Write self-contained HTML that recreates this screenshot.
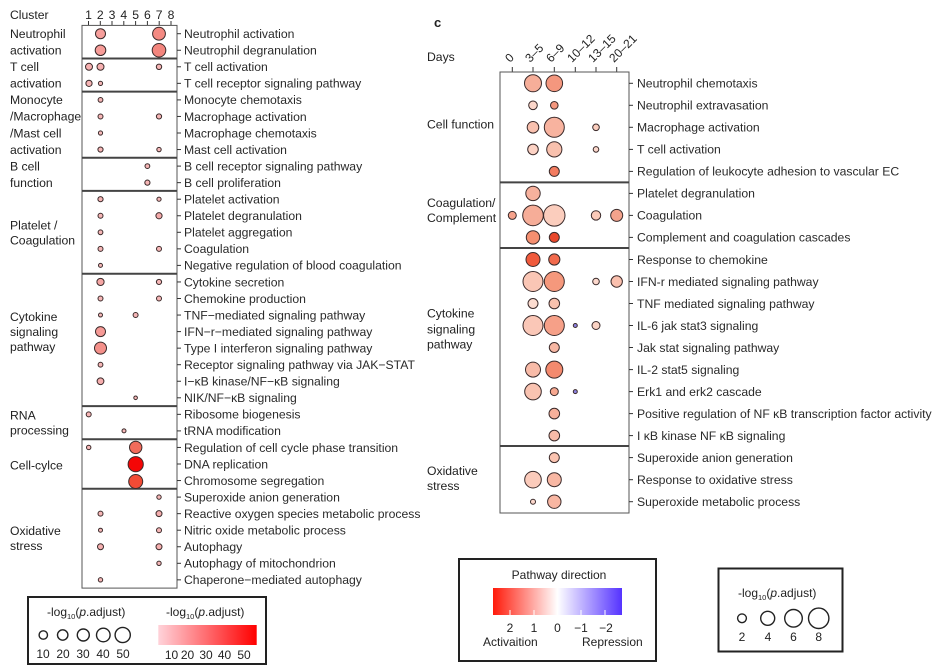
<!DOCTYPE html>
<html><head><meta charset="utf-8"><style>
html,body{margin:0;padding:0;background:#fff;}
svg{display:block;font-family:"Liberation Sans","DejaVu Sans",sans-serif;}
.t{font-size:12.2px;fill:#2a2a2a;}
.g{font-size:12.2px;fill:#222;}
.s{font-size:12px;fill:#222;}
</style></head><body>
<svg width="935" height="667" viewBox="0 0 935 667" xmlns="http://www.w3.org/2000/svg">
<defs>
<linearGradient id="pg" x1="0" x2="1" y1="0" y2="0"><stop offset="0" stop-color="#ffd3da"/><stop offset="1" stop-color="#ff0000"/></linearGradient>
<linearGradient id="dg" x1="0" x2="1" y1="0" y2="0"><stop offset="0" stop-color="#ff1a0a"/><stop offset="0.5" stop-color="#ffffff"/><stop offset="1" stop-color="#5533ff"/></linearGradient>
</defs>

<!-- LEFT PANEL -->
<text x="10" y="19" class="g">Cluster</text>
<g class="g" text-anchor="middle">
<text x="88.5" y="19">1</text><text x="100.3" y="19">2</text><text x="112" y="19">3</text><text x="123.8" y="19">4</text><text x="135.6" y="19">5</text><text x="147.4" y="19">6</text><text x="159.2" y="19">7</text><text x="171" y="19">8</text>
</g>
<g stroke="#333" stroke-width="1">
<line x1="88.5" y1="21" x2="88.5" y2="25.4"/><line x1="100.3" y1="21" x2="100.3" y2="25.4"/><line x1="112" y1="21" x2="112" y2="25.4"/><line x1="123.8" y1="21" x2="123.8" y2="25.4"/><line x1="135.6" y1="21" x2="135.6" y2="25.4"/><line x1="147.4" y1="21" x2="147.4" y2="25.4"/><line x1="159.2" y1="21" x2="159.2" y2="25.4"/><line x1="171" y1="21" x2="171" y2="25.4"/>
</g>
<rect x="82" y="25.4" width="95" height="562.7" fill="none" stroke="#555" stroke-width="1"/>
<g stroke="#444" stroke-width="2">
<line x1="82" y1="58.5" x2="177" y2="58.5"/><line x1="82" y1="91.6" x2="177" y2="91.6"/><line x1="82" y1="157.8" x2="177" y2="157.8"/><line x1="82" y1="190.9" x2="177" y2="190.9"/><line x1="82" y1="273.7" x2="177" y2="273.7"/><line x1="82" y1="406.1" x2="177" y2="406.1"/><line x1="82" y1="439.2" x2="177" y2="439.2"/><line x1="82" y1="488.8" x2="177" y2="488.8"/>
</g>
<g stroke="#333" stroke-width="1">
<line x1="177" x2="181" y1="33.7" y2="33.7"/><line x1="177" x2="181" y1="50.25" y2="50.25"/><line x1="177" x2="181" y1="66.8" y2="66.8"/><line x1="177" x2="181" y1="83.35" y2="83.35"/><line x1="177" x2="181" y1="99.9" y2="99.9"/><line x1="177" x2="181" y1="116.45" y2="116.45"/><line x1="177" x2="181" y1="133" y2="133"/><line x1="177" x2="181" y1="149.55" y2="149.55"/><line x1="177" x2="181" y1="166.1" y2="166.1"/><line x1="177" x2="181" y1="182.65" y2="182.65"/><line x1="177" x2="181" y1="199.2" y2="199.2"/><line x1="177" x2="181" y1="215.75" y2="215.75"/><line x1="177" x2="181" y1="232.3" y2="232.3"/><line x1="177" x2="181" y1="248.85" y2="248.85"/><line x1="177" x2="181" y1="265.4" y2="265.4"/><line x1="177" x2="181" y1="281.95" y2="281.95"/><line x1="177" x2="181" y1="298.5" y2="298.5"/><line x1="177" x2="181" y1="315.05" y2="315.05"/><line x1="177" x2="181" y1="331.6" y2="331.6"/><line x1="177" x2="181" y1="348.15" y2="348.15"/><line x1="177" x2="181" y1="364.7" y2="364.7"/><line x1="177" x2="181" y1="381.25" y2="381.25"/><line x1="177" x2="181" y1="397.8" y2="397.8"/><line x1="177" x2="181" y1="414.35" y2="414.35"/><line x1="177" x2="181" y1="430.9" y2="430.9"/><line x1="177" x2="181" y1="447.45" y2="447.45"/><line x1="177" x2="181" y1="464" y2="464"/><line x1="177" x2="181" y1="480.55" y2="480.55"/><line x1="177" x2="181" y1="497.1" y2="497.1"/><line x1="177" x2="181" y1="513.65" y2="513.65"/><line x1="177" x2="181" y1="530.2" y2="530.2"/><line x1="177" x2="181" y1="546.75" y2="546.75"/><line x1="177" x2="181" y1="563.3" y2="563.3"/><line x1="177" x2="181" y1="579.85" y2="579.85"/>
</g>
<g class="t">
<text x="184" y="38">Neutrophil activation</text>
<text x="184" y="54.55">Neutrophil degranulation</text>
<text x="184" y="71.1">T cell activation</text>
<text x="184" y="87.65">T cell receptor signaling pathway</text>
<text x="184" y="104.2">Monocyte chemotaxis</text>
<text x="184" y="120.75">Macrophage activation</text>
<text x="184" y="137.3">Macrophage chemotaxis</text>
<text x="184" y="153.85">Mast cell activation</text>
<text x="184" y="170.4">B cell receptor signaling pathway</text>
<text x="184" y="186.95">B cell proliferation</text>
<text x="184" y="203.5">Platelet activation</text>
<text x="184" y="220.05">Platelet degranulation</text>
<text x="184" y="236.6">Platelet aggregation</text>
<text x="184" y="253.15">Coagulation</text>
<text x="184" y="269.7">Negative regulation of blood coagulation</text>
<text x="184" y="286.25">Cytokine secretion</text>
<text x="184" y="302.8">Chemokine production</text>
<text x="184" y="319.35">TNF−mediated signaling pathway</text>
<text x="184" y="335.9">IFN−r−mediated signaling pathway</text>
<text x="184" y="352.45">Type I interferon signaling pathway</text>
<text x="184" y="369">Receptor signaling pathway via JAK−STAT</text>
<text x="184" y="385.55">I−κB kinase/NF−κB signaling</text>
<text x="184" y="402.1">NIK/NF−κB signaling</text>
<text x="184" y="418.65">Ribosome biogenesis</text>
<text x="184" y="435.2">tRNA modification</text>
<text x="184" y="451.75">Regulation of cell cycle phase transition</text>
<text x="184" y="468.3">DNA replication</text>
<text x="184" y="484.85">Chromosome segregation</text>
<text x="184" y="501.4">Superoxide anion generation</text>
<text x="184" y="517.95">Reactive oxygen species metabolic process</text>
<text x="184" y="534.5">Nitric oxide metabolic process</text>
<text x="184" y="551.05">Autophagy</text>
<text x="184" y="567.6">Autophagy of mitochondrion</text>
<text x="184" y="584.15">Chaperone−mediated autophagy</text>
</g>
<g class="g">
<text x="10" y="38">Neutrophil</text><text x="10" y="54.5">activation</text>
<text x="10" y="71.1">T cell</text><text x="10" y="87.6">activation</text>
<text x="10" y="104.2">Monocyte</text><text x="10" y="120.7">/Macrophage</text><text x="10" y="137.3">/Mast cell</text><text x="10" y="153.8">activation</text>
<text x="10" y="170.4">B cell</text><text x="10" y="186.9">function</text>
<text x="10" y="229.3">Platelet /</text><text x="10" y="244.3">Coagulation</text>
<text x="10" y="321">Cytokine</text><text x="10" y="336">signaling</text><text x="10" y="351">pathway</text>
<text x="10" y="419.3">RNA</text><text x="10" y="434.3">processing</text>
<text x="10" y="469.3">Cell-cylce</text>
<text x="10" y="535">Oxidative</text><text x="10" y="550">stress</text>
</g>
<g stroke="#3a2a2a" stroke-width="1">
<circle cx="100.5" cy="33.7" r="5" fill="#f79f9c"/><circle cx="159" cy="33.7" r="6.4" fill="#f48a82"/>
<circle cx="100.5" cy="50.25" r="5.3" fill="#f79c98"/><circle cx="159" cy="50.25" r="6.8" fill="#f3857d"/>
<circle cx="89" cy="66.8" r="3.5" fill="#f6b0b0"/><circle cx="100.5" cy="66.8" r="3.5" fill="#f6b0b0"/><circle cx="159" cy="66.8" r="2.7" fill="#f6b6b6"/>
<circle cx="89" cy="83.35" r="3.1" fill="#f6b4b4"/><circle cx="100.5" cy="83.35" r="2.1" fill="#f6b8b8"/>
<circle cx="100.5" cy="99.9" r="2.4" fill="#f6b6b6"/>
<circle cx="100.5" cy="116.45" r="2.5" fill="#f6b6b6"/><circle cx="159" cy="116.45" r="2.6" fill="#f6b6b6"/>
<circle cx="100.5" cy="133" r="2.1" fill="#f6b8b8"/>
<circle cx="100.5" cy="149.55" r="2.6" fill="#f6b6b6"/><circle cx="159" cy="149.55" r="2.2" fill="#f6b8b8"/>
<circle cx="147.4" cy="166.1" r="2.4" fill="#f6b6b6"/>
<circle cx="147.4" cy="182.65" r="2.6" fill="#f6b6b6"/>
<circle cx="100.5" cy="199.2" r="2.6" fill="#f6b4b4"/><circle cx="159" cy="199.2" r="2.1" fill="#f6b8b8"/>
<circle cx="100.5" cy="215.75" r="2.5" fill="#f6b6b6"/><circle cx="159" cy="215.75" r="3.1" fill="#f5aaaa"/>
<circle cx="100.5" cy="232.3" r="2.4" fill="#f6b6b6"/>
<circle cx="100.5" cy="248.85" r="2.5" fill="#f6b6b6"/><circle cx="159" cy="248.85" r="2.5" fill="#f6b6b6"/>
<circle cx="100.5" cy="265.4" r="2" fill="#f6b8b8"/>
<circle cx="100.5" cy="281.95" r="3.6" fill="#f5a6a4"/><circle cx="159" cy="281.95" r="2.6" fill="#f6b6b6"/>
<circle cx="100.5" cy="298.5" r="2.5" fill="#f6b6b6"/><circle cx="159" cy="298.5" r="2.5" fill="#f6b6b6"/>
<circle cx="100.5" cy="315.05" r="2" fill="#f6b8b8"/><circle cx="135.6" cy="315.05" r="2.5" fill="#f6b6b6"/>
<circle cx="100.5" cy="331.6" r="5" fill="#f69a96"/>
<circle cx="100.5" cy="348.15" r="6" fill="#f4908a"/>
<circle cx="100.5" cy="364.7" r="2.4" fill="#f6b6b6"/>
<circle cx="100.5" cy="381.25" r="3.4" fill="#f6aeae"/>
<circle cx="135.6" cy="397.8" r="1.8" fill="#f6b8b8"/>
<circle cx="88.7" cy="414.35" r="2.5" fill="#f6b6b6"/>
<circle cx="124" cy="430.9" r="2" fill="#f6b8b8"/>
<circle cx="88.7" cy="447.45" r="2.2" fill="#f6b8b8"/><circle cx="135.7" cy="447.4" r="6.2" fill="#f26b5b"/>
<circle cx="135.7" cy="464.2" r="7.6" fill="#f40606"/>
<circle cx="135.7" cy="481.5" r="7" fill="#f24b35"/>
<circle cx="159" cy="497.1" r="2.2" fill="#f6b8b8"/>
<circle cx="100.5" cy="513.65" r="2.5" fill="#f6b6b6"/><circle cx="159" cy="513.65" r="3" fill="#f5aeae"/>
<circle cx="100.5" cy="530.2" r="2" fill="#f6b8b8"/><circle cx="159" cy="530.2" r="2.5" fill="#f6b6b6"/>
<circle cx="100.5" cy="546.75" r="3" fill="#f6b0b0"/><circle cx="159" cy="546.75" r="3" fill="#f6b0b0"/>
<circle cx="159" cy="563.3" r="2.2" fill="#f6b8b8"/>
<circle cx="100.5" cy="579.85" r="2.2" fill="#f6b8b8"/>
</g>

<!-- LEFT LEGEND -->
<rect x="28" y="597" width="238" height="67" fill="none" stroke="#222" stroke-width="2"/>
<text x="47" y="616" class="s">-log<tspan font-size="7.5" dy="3">10</tspan><tspan dy="-3">(</tspan><tspan font-style="italic">p</tspan>.adjust)</text>
<text x="166" y="616" class="s">-log<tspan font-size="7.5" dy="3">10</tspan><tspan dy="-3">(</tspan><tspan font-style="italic">p</tspan>.adjust)</text>
<g fill="#fff" stroke="#222" stroke-width="1.4">
<circle cx="43.3" cy="635" r="4.2"/><circle cx="62.7" cy="635" r="5.2"/><circle cx="83.3" cy="635" r="6"/><circle cx="103.3" cy="635" r="6.8"/><circle cx="122.7" cy="635" r="7.6"/>
</g>
<g class="s" text-anchor="middle">
<text x="43" y="658">10</text><text x="63" y="658">20</text><text x="83" y="658">30</text><text x="103" y="658">40</text><text x="123" y="658">50</text>
</g>
<rect x="158.3" y="625" width="98.4" height="20" fill="url(#pg)"/>
<g class="s" text-anchor="middle">
<text x="171.5" y="659">10</text><text x="187.5" y="659">20</text><text x="206" y="659">30</text><text x="224.5" y="659">40</text><text x="244" y="659">50</text>
</g>

<!-- RIGHT PANEL -->
<text x="434" y="27" style="font-size:13px;font-weight:bold;fill:#222">c</text>
<text x="427" y="61" class="g">Days</text>
<g class="s">
<text transform="translate(510,63) rotate(-45)">0</text>
<text transform="translate(530,63) rotate(-45)">3–5</text>
<text transform="translate(551,63) rotate(-45)">6–9</text>
<text transform="translate(572,63) rotate(-45)">10–12</text>
<text transform="translate(593,63) rotate(-45)">13–15</text>
<text transform="translate(614,63) rotate(-45)">20–21</text>
</g>
<g stroke="#333" stroke-width="1">
<line x1="512.3" y1="67" x2="512.3" y2="72"/><line x1="533" y1="67" x2="533" y2="72"/><line x1="554.3" y1="67" x2="554.3" y2="72"/><line x1="575.3" y1="67" x2="575.3" y2="72"/><line x1="596" y1="67" x2="596" y2="72"/><line x1="616.7" y1="67" x2="616.7" y2="72"/>
</g>
<rect x="500" y="72" width="129" height="441" fill="none" stroke="#555" stroke-width="1"/>
<g stroke="#444" stroke-width="2">
<line x1="500" y1="182.4" x2="629" y2="182.4"/><line x1="500" y1="248" x2="629" y2="248"/><line x1="500" y1="446" x2="629" y2="446"/>
</g>
<g stroke="#333" stroke-width="1">
<line x1="629" x2="633" y1="83.3" y2="83.3"/><line x1="629" x2="633" y1="105.3" y2="105.3"/><line x1="629" x2="633" y1="127.3" y2="127.3"/><line x1="629" x2="633" y1="149.4" y2="149.4"/><line x1="629" x2="633" y1="171.4" y2="171.4"/><line x1="629" x2="633" y1="193.4" y2="193.4"/><line x1="629" x2="633" y1="215.4" y2="215.4"/><line x1="629" x2="633" y1="237.4" y2="237.4"/><line x1="629" x2="633" y1="259.5" y2="259.5"/><line x1="629" x2="633" y1="281.5" y2="281.5"/><line x1="629" x2="633" y1="303.5" y2="303.5"/><line x1="629" x2="633" y1="325.5" y2="325.5"/><line x1="629" x2="633" y1="347.5" y2="347.5"/><line x1="629" x2="633" y1="369.6" y2="369.6"/><line x1="629" x2="633" y1="391.6" y2="391.6"/><line x1="629" x2="633" y1="413.6" y2="413.6"/><line x1="629" x2="633" y1="435.6" y2="435.6"/><line x1="629" x2="633" y1="457.6" y2="457.6"/><line x1="629" x2="633" y1="479.7" y2="479.7"/><line x1="629" x2="633" y1="501.7" y2="501.7"/>
</g>
<g class="t">
<text x="637" y="87.6">Neutrophil chemotaxis</text>
<text x="637" y="109.6">Neutrophil extravasation</text>
<text x="637" y="131.6">Macrophage activation</text>
<text x="637" y="153.7">T cell activation</text>
<text x="637" y="175.7">Regulation of leukocyte adhesion to vascular EC</text>
<text x="637" y="197.7">Platelet degranulation</text>
<text x="637" y="219.7">Coagulation</text>
<text x="637" y="241.7">Complement and coagulation cascades</text>
<text x="637" y="263.8">Response to chemokine</text>
<text x="637" y="285.8">IFN-r mediated signaling pathway</text>
<text x="637" y="307.8">TNF mediated signaling pathway</text>
<text x="637" y="329.8">IL-6 jak stat3 signaling</text>
<text x="637" y="351.8">Jak stat signaling pathway</text>
<text x="637" y="373.9">IL-2 stat5 signaling</text>
<text x="637" y="395.9">Erk1 and erk2 cascade</text>
<text x="637" y="417.9">Positive regulation of NF κB transcription factor activity</text>
<text x="637" y="439.9">I κB kinase NF κB signaling</text>
<text x="637" y="461.9">Superoxide anion generation</text>
<text x="637" y="484">Response to oxidative stress</text>
<text x="637" y="506">Superoxide metabolic process</text>
</g>
<g class="g">
<text x="427" y="128.3">Cell function</text>
<text x="427" y="207">Coagulation/</text><text x="427" y="222">Complement</text>
<text x="427" y="317.6">Cytokine</text><text x="427" y="333.3">signaling</text><text x="427" y="348.3">pathway</text>
<text x="427" y="475">Oxidative</text><text x="427" y="490">stress</text>
</g>
<g stroke="#3a2a2a" stroke-width="1">
<circle cx="533" cy="83.3" r="8.5" fill="#f6ae99"/><circle cx="554.3" cy="83.3" r="8.3" fill="#f4977e"/>
<circle cx="533" cy="105.3" r="4.3" fill="#fcd6ca"/><circle cx="554.3" cy="105.3" r="3.8" fill="#f4977e"/>
<circle cx="533" cy="127.3" r="5.8" fill="#f9c1af"/><circle cx="554.3" cy="127.3" r="10" fill="#f8b39f"/><circle cx="596" cy="127.3" r="3.3" fill="#fbcebe"/>
<circle cx="533" cy="149.4" r="5.3" fill="#fcd2c4"/><circle cx="554.3" cy="149.4" r="7.6" fill="#f9c1ae"/><circle cx="596" cy="149.4" r="2.8" fill="#fcd8cc"/>
<circle cx="554.3" cy="171.4" r="5" fill="#f37c60"/>
<circle cx="533" cy="193.4" r="7.2" fill="#f7b19d"/>
<circle cx="512.3" cy="215.4" r="4" fill="#f6a28b"/><circle cx="533" cy="215.4" r="10.3" fill="#f6ad98"/><circle cx="554.3" cy="215.4" r="10.7" fill="#fbcdbd"/><circle cx="596" cy="215.4" r="4.7" fill="#fbcab9"/><circle cx="616.7" cy="215.4" r="6" fill="#f4a38c"/>
<circle cx="533" cy="237.4" r="6.7" fill="#f48f70"/><circle cx="554.3" cy="237.4" r="5" fill="#e8472a"/>
<circle cx="533" cy="259.5" r="7" fill="#f05a3c"/><circle cx="554.3" cy="259.5" r="5.6" fill="#f26a4c"/>
<circle cx="533" cy="281.5" r="10" fill="#fac6b5"/><circle cx="554.3" cy="281.5" r="10" fill="#f5987c"/><circle cx="596" cy="281.5" r="3.3" fill="#fcd8cc"/><circle cx="616.7" cy="281.5" r="5.7" fill="#fac0ae"/>
<circle cx="533" cy="303.5" r="5" fill="#fcdcd0"/><circle cx="554.3" cy="303.5" r="5.3" fill="#f9c1ae"/>
<circle cx="533" cy="325.5" r="10" fill="#fac7b7"/><circle cx="554.3" cy="325.5" r="10" fill="#f6a088"/><circle cx="575.3" cy="325.5" r="2" fill="#8c82e0"/><circle cx="596" cy="325.5" r="4" fill="#fbd3c4"/>
<circle cx="554.3" cy="347.5" r="5" fill="#f7b7a3"/>
<circle cx="533" cy="369.6" r="7.5" fill="#f8bba8"/><circle cx="554.3" cy="369.6" r="8.5" fill="#f48a6e"/>
<circle cx="533" cy="391.6" r="8.3" fill="#f9c3b1"/><circle cx="554.3" cy="391.6" r="4" fill="#f7a890"/><circle cx="575.3" cy="391.6" r="2" fill="#8c82e0"/>
<circle cx="554.3" cy="413.6" r="5.3" fill="#f7b09b"/>
<circle cx="554.3" cy="435.6" r="5.3" fill="#f9bba8"/>
<circle cx="554.3" cy="457.6" r="5" fill="#fac3b0"/>
<circle cx="533" cy="479.7" r="8.3" fill="#fbcbbb"/><circle cx="554.3" cy="479.7" r="7" fill="#f8b7a3"/>
<circle cx="533" cy="501.7" r="2.5" fill="#fcd8cc"/><circle cx="554.3" cy="501.7" r="6.7" fill="#f8b6a2"/>
</g>

<!-- PATHWAY DIRECTION LEGEND -->
<rect x="459" y="559" width="197" height="102" fill="none" stroke="#222" stroke-width="2"/>
<text x="559" y="579" class="s" text-anchor="middle">Pathway direction</text>
<rect x="493" y="588" width="129" height="27" fill="url(#dg)"/>
<g stroke="#fff" stroke-width="1">
<line x1="510" y1="610" x2="510" y2="615"/><line x1="534" y1="610" x2="534" y2="615"/><line x1="557.5" y1="610" x2="557.5" y2="615"/><line x1="581" y1="610" x2="581" y2="615"/><line x1="605" y1="610" x2="605" y2="615"/>
</g>
<g class="s" text-anchor="middle">
<text x="510" y="632">2</text><text x="534" y="632">1</text><text x="557.5" y="632">0</text><text x="581" y="632">−1</text><text x="606" y="632">−2</text>
</g>
<text x="483" y="646" class="s">Activaition</text>
<text x="582" y="646" class="s">Repression</text>

<!-- SIZE LEGEND RIGHT -->
<rect x="718.5" y="568.5" width="124" height="83" fill="none" stroke="#222" stroke-width="2"/>
<text x="738" y="597" class="s">-log<tspan font-size="7.5" dy="3">10</tspan><tspan dy="-3">(</tspan><tspan font-style="italic">p</tspan>.adjust)</text>
<g fill="#fff" stroke="#222" stroke-width="1.4">
<circle cx="742" cy="618.3" r="4.4"/><circle cx="767.7" cy="618.3" r="7"/><circle cx="793.5" cy="618.3" r="8.8"/><circle cx="818.7" cy="618.3" r="10.2"/>
</g>
<g class="s" text-anchor="middle">
<text x="742" y="641">2</text><text x="768" y="641">4</text><text x="793.5" y="641">6</text><text x="818.7" y="641">8</text>
</g>
</svg>
</body></html>
